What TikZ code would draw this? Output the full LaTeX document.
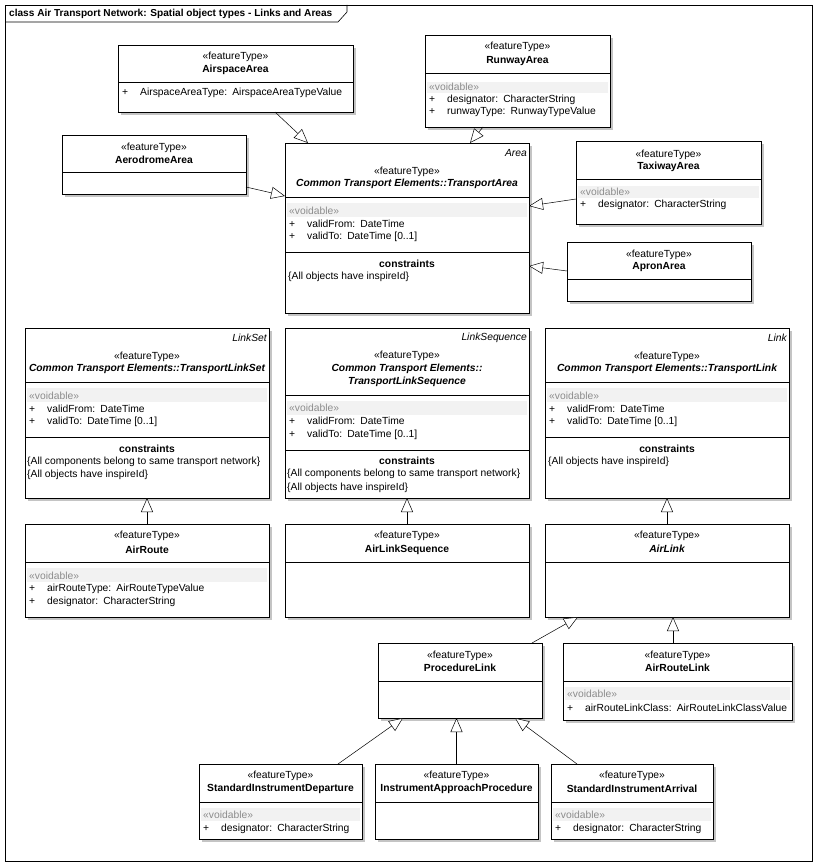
\documentclass[tikz,border=0pt]{standalone}
\usepackage{fontspec}
\setmainfont{Liberation Sans}
\usetikzlibrary{arrows.meta,shadows}
\definecolor{schatten}{HTML}{C4C4C4}
\definecolor{band}{HTML}{F2F2F2}
\definecolor{vgrau}{HTML}{8C8C8C}
\newcommand{\ft}{«featureType»}
\newcommand{\vd}{«voidable»}
\newcommand{\pl}{\makebox[18pt][l]{+}}
\tikzset{
  kasten/.style={draw,fill=white,line width=0.6pt,anchor=north west,inner sep=0pt,outer sep=0pt,
    drop shadow={shadow xshift=3pt,shadow yshift=-3pt,fill=schatten,opacity=1}},
  txt/.style={inner sep=0pt,font=\fontsize{10.3}{12}\selectfont},
  ster/.style={txt},
  nam/.style={txt,font=\fontsize{10.3}{12}\selectfont\bfseries},
  namk/.style={txt,font=\fontsize{10.3}{12}\selectfont\bfseries\itshape},
  eck/.style={txt,anchor=east,font=\fontsize{10.3}{12}\selectfont\itshape},
  att/.style={txt,anchor=west},
  void/.style={txt,anchor=west,vgrau},
  teil/.style={line width=0.6pt},
  gen/.style={-{Triangle[length=14pt,width=12pt,fill=white]},line width=0.5pt},
}

\begin{document}
\begin{tikzpicture}[x=1pt,y=-1pt]
  \useasboundingbox[fill=white] (0,0) rectangle (818,866);
  % rahmen
  \draw[line width=0.6pt] (5,5) rectangle (812,861);
  \draw[line width=0.6pt] (5,22) -- (338,22) -- (347,12) -- (347,5);
  \node[att,font=\fontsize{10.1}{12}\selectfont\bfseries] (titel) at (9,13.5)
    {class Air Transport Network: Spatial object types - Links and Areas};

  % AirspaceArea
  \node[kasten,minimum width=235pt,minimum height=67pt] (airspace) at (118,45) {};
  \node[ster] at (235.5,57) {\ft};
  \node[nam] at (235.5,70) {AirspaceArea};
  \draw[teil] (118,82) -- (353,82);
  \node[att] at (122,93) {\pl AirspaceAreaType:\enspace AirspaceAreaTypeValue};

  % RunwayArea
  \node[kasten,minimum width=185pt,minimum height=92pt] (runway) at (425,35) {};
  \node[ster] at (517.5,47) {\ft};
  \node[nam] at (517.5,61) {RunwayArea};
  \draw[teil] (425,73) -- (610,73);
  \fill[band] (427,82) rectangle (608,93);
  \node[void] at (429,87) {\vd};
  \node[att] at (429,100) {\pl designator:\enspace CharacterString};
  \node[att] at (429,112) {\pl runwayType:\enspace RunwayTypeValue};

  % AerodromeArea
  \node[kasten,minimum width=184pt,minimum height=59pt] (aerodrome) at (62,135) {};
  \node[ster] at (154,148) {\ft};
  \node[nam] at (154,160) {AerodromeArea};
  \draw[teil] (62,172) -- (246,172);

  % TransportArea
  \node[kasten,minimum width=244pt,minimum height=170pt] (tarea) at (285,143) {};
  \node[eck] at (527,153) {Area};
  \node[ster] at (407,172) {\ft};
  \node[namk] at (407,184) {Common Transport Elements::TransportArea};
  \draw[teil] (285,197) -- (529,197);
  \fill[band] (287,203) rectangle (527,217);
  \node[void] at (289,211) {\vd};
  \node[att] at (289,224) {\pl validFrom:\enspace DateTime};
  \node[att] at (289,237) {\pl validTo:\enspace DateTime [0..1]};
  \draw[teil] (285,252) -- (529,252);
  \node[nam] at (407,264) {constraints};
  \node[att] at (288,277) {\{All objects have inspireId\}};

  % TaxiwayArea
  \node[kasten,minimum width=185pt,minimum height=83pt] (taxiway) at (576,141) {};
  \node[ster] at (668.5,155) {\ft};
  \node[nam] at (668.5,167) {TaxiwayArea};
  \draw[teil] (576,179) -- (761,179);
  \fill[band] (578,186) rectangle (759,198);
  \node[void] at (580,192) {\vd};
  \node[att] at (580,205) {\pl designator:\enspace CharacterString};

  % ApronArea
  \node[kasten,minimum width=184pt,minimum height=59pt] (apron) at (567,242) {};
  \node[ster] at (659,255) {\ft};
  \node[nam] at (659,267) {ApronArea};
  \draw[teil] (567,279) -- (751,279);

  % TransportLinkSet
  \node[kasten,minimum width=244pt,minimum height=170pt] (linkset) at (25,328) {};
  \node[eck] at (267,338) {LinkSet};
  \node[ster] at (147,357) {\ft};
  \node[namk] at (147,369) {Common Transport Elements::TransportLinkSet};
  \draw[teil] (25,382) -- (269,382);
  \fill[band] (27,388) rectangle (267,402);
  \node[void] at (29,396) {\vd};
  \node[att] at (29,409) {\pl validFrom:\enspace DateTime};
  \node[att] at (29,422) {\pl validTo:\enspace DateTime [0..1]};
  \draw[teil] (25,437) -- (269,437);
  \node[nam] at (147,449) {constraints};
  \node[att] at (27,462) {\{All components belong to same transport network\}};
  \node[att] at (27,475) {\{All objects have inspireId\}};

  % TransportLinkSequence
  \node[kasten,minimum width=244pt,minimum height=170pt] (linkseq) at (285,328) {};
  \node[eck] at (527,338) {LinkSequence};
  \node[ster] at (407,356) {\ft};
  \node[namk] at (407,369) {Common Transport Elements::};
  \node[namk] at (407,382) {TransportLinkSequence};
  \draw[teil] (285,395) -- (529,395);
  \fill[band] (287,401) rectangle (527,415);
  \node[void] at (289,408) {\vd};
  \node[att] at (289,421) {\pl validFrom:\enspace DateTime};
  \node[att] at (289,435) {\pl validTo:\enspace DateTime [0..1]};
  \draw[teil] (285,450) -- (529,450);
  \node[nam] at (407,461) {constraints};
  \node[att] at (287,474) {\{All components belong to same transport network\}};
  \node[att] at (287,488) {\{All objects have inspireId\}};

  % TransportLink
  \node[kasten,minimum width=244pt,minimum height=170pt] (tlink) at (545,328) {};
  \node[eck] at (787,338) {Link};
  \node[ster] at (667,357) {\ft};
  \node[namk] at (667,369) {Common Transport Elements::TransportLink};
  \draw[teil] (545,382) -- (789,382);
  \fill[band] (547,388) rectangle (787,402);
  \node[void] at (549,396) {\vd};
  \node[att] at (549,409) {\pl validFrom:\enspace DateTime};
  \node[att] at (549,422) {\pl validTo:\enspace DateTime [0..1]};
  \draw[teil] (545,437) -- (789,437);
  \node[nam] at (667,449) {constraints};
  \node[att] at (548,462) {\{All objects have inspireId\}};

  % AirRoute
  \node[kasten,minimum width=244pt,minimum height=93pt] (airroute) at (25,524) {};
  \node[ster] at (147,536) {\ft};
  \node[nam] at (147,550) {AirRoute};
  \draw[teil] (25,562) -- (269,562);
  \fill[band] (27,568) rectangle (267,582);
  \node[void] at (29,576) {\vd};
  \node[att] at (29,589) {\pl airRouteType:\enspace AirRouteTypeValue};
  \node[att] at (29,602) {\pl designator:\enspace CharacterString};

  % AirLinkSequence
  \node[kasten,minimum width=244pt,minimum height=93pt] (airlinkseq) at (285,524) {};
  \node[ster] at (407,536) {\ft};
  \node[nam] at (407,550) {AirLinkSequence};
  \draw[teil] (285,562) -- (529,562);

  % AirLink
  \node[kasten,minimum width=244pt,minimum height=93pt] (airlink) at (545,524) {};
  \node[ster] at (667,536) {\ft};
  \node[namk] at (667,549) {AirLink};
  \draw[teil] (545,562) -- (789,562);

  % ProcedureLink
  \node[kasten,minimum width=164pt,minimum height=75pt] (proclink) at (378,643) {};
  \node[ster] at (460,656) {\ft};
  \node[nam] at (460,668) {ProcedureLink};
  \draw[teil] (378,681) -- (542,681);

  % AirRouteLink
  \node[kasten,minimum width=229pt,minimum height=77pt] (arlink) at (563,643) {};
  \node[ster] at (677.5,656) {\ft};
  \node[nam] at (677.5,668) {AirRouteLink};
  \draw[teil] (563,681) -- (792,681);
  \fill[band] (565,687) rectangle (790,700);
  \node[void] at (567,694) {\vd};
  \node[att] at (567,708) {\pl airRouteLinkClass:\enspace AirRouteLinkClassValue};

  % StandardInstrumentDeparture
  \node[kasten,minimum width=163pt,minimum height=75pt] (sid) at (199,764) {};
  \node[ster] at (280.5,776) {\ft};
  \node[nam] at (280.5,789) {StandardInstrumentDeparture};
  \draw[teil] (199,802) -- (362,802);
  \fill[band] (201,808) rectangle (360,821);
  \node[void] at (203,815) {\vd};
  \node[att] at (203,829) {\pl designator:\enspace CharacterString};

  % InstrumentApproachProcedure
  \node[kasten,minimum width=163pt,minimum height=75pt] (iap) at (375,764) {};
  \node[ster] at (456.5,776) {\ft};
  \node[nam] at (456.5,789) {InstrumentApproachProcedure};
  \draw[teil] (375,802) -- (538,802);

  % StandardInstrumentArrival
  \node[kasten,minimum width=162pt,minimum height=75pt] (sia) at (551,764) {};
  \node[ster] at (632,776) {\ft};
  \node[nam] at (632,789) {StandardInstrumentArrival};
  \draw[teil] (551,802) -- (713,802);
  \fill[band] (553,808) rectangle (711,821);
  \node[void] at (555,815) {\vd};
  \node[att] at (555,829) {\pl designator:\enspace CharacterString};

  % generalisierungen
  \draw[gen] ([xshift=157pt]airspace.south west) -- ([xshift=23pt]tarea.north west);
  \draw[gen] ([xshift=58pt]runway.south west) -- ([xshift=-59pt]tarea.north east);
  \draw[gen] ([yshift=7pt]aerodrome.south east) -- ([yshift=-53pt]tarea.north west);
  \draw[gen] ([yshift=-58pt]taxiway.north west) -- ([yshift=-63pt]tarea.north east);
  \draw[gen] ([yshift=-29pt]apron.north west) -- ([yshift=-123pt]tarea.north east);
  \draw[gen] (airroute.north) -- (linkset.south);
  \draw[gen] (airlinkseq.north) -- (linkseq.south);
  \draw[gen] (airlink.north) -- (tlink.south);
  \draw[gen] ([xshift=-10pt]proclink.north east) -- ([xshift=33pt]airlink.south west);
  \draw[gen] ([xshift=6pt]airlink.south |- arlink.north) -- ([xshift=6pt]airlink.south);
  \draw[gen] ([xshift=-24pt]sid.north east) -- ([xshift=25pt]proclink.south west);
  \draw[gen] (iap.north) -- (iap.north |- proclink.south);
  \draw[gen] ([xshift=26pt]sia.north west) -- ([xshift=-27pt]proclink.south east);
\end{tikzpicture}
\end{document}
